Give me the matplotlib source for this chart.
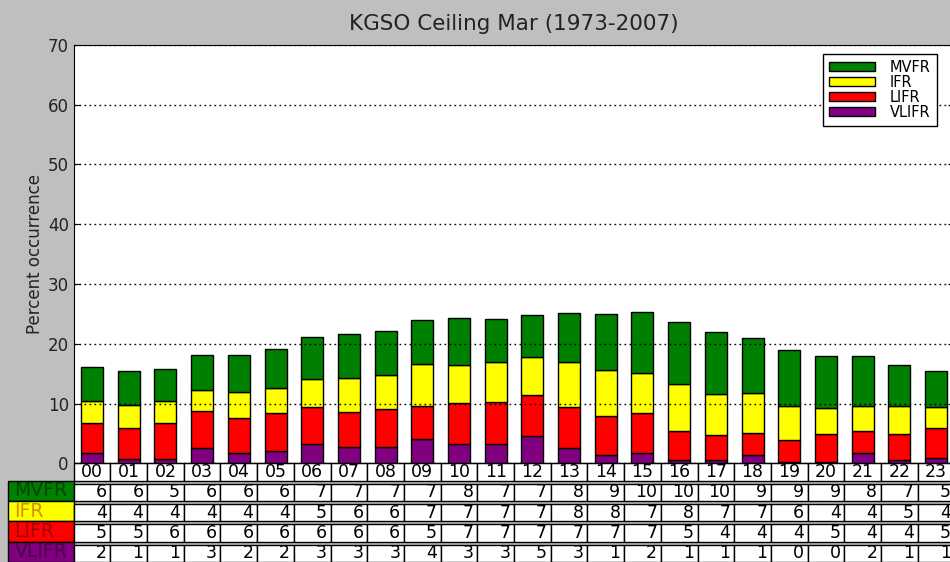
import numpy as np
import matplotlib.pyplot as plt

hours = ["00", "01", "02", "03", "04", "05", "06", "07", "08", "09", "10", "11",
         "12", "13", "14", "15", "16", "17", "18", "19", "20", "21", "22", "23"]
categories = ["VLIFR", "LIFR", "IFR", "MVFR"]

# stacked segment heights (percent)
vlifr = [1.7, 0.7, 0.8, 2.6, 1.7, 2.1, 3.25, 2.7, 2.7, 4.1, 3.25, 3.25,
         4.6, 2.5, 1.4, 1.8, 0.6, 0.55, 1.4, 0.3, 0.3, 1.7, 0.6, 0.85]
lifr = [5.0, 5.2, 6.0, 6.1, 5.9, 6.4, 6.15, 5.9, 6.45, 5.45, 6.85, 7.05,
        6.75, 6.9, 6.6, 6.6, 4.85, 4.15, 3.65, 3.6, 4.6, 3.75, 4.35, 5.05]
ifr = [3.8, 3.8, 3.65, 3.6, 4.3, 4.1, 4.65, 5.6, 5.55, 7.05, 6.4, 6.7,
       6.5, 7.6, 7.6, 6.65, 7.75, 6.85, 6.75, 5.75, 4.3, 4.2, 4.6, 3.55]
mvfr = [5.6, 5.8, 5.35, 5.8, 6.2, 6.45, 7.05, 7.4, 7.45, 7.4, 7.8, 7.2,
        7.0, 8.1, 9.4, 10.25, 10.4, 10.45, 9.1, 9.25, 8.8, 8.25, 6.95, 6.0]

# rounded values printed in the table
mvfr_tab = [6, 6, 5, 6, 6, 6, 7, 7, 7, 7, 8, 7, 7, 8, 9, 10, 10, 10, 9, 9, 9, 8, 7, 5]
ifr_tab = [4, 4, 4, 4, 4, 4, 5, 6, 6, 7, 7, 7, 7, 8, 8, 7, 8, 7, 7, 6, 4, 4, 5, 4]
lifr_tab = [5, 5, 6, 6, 6, 6, 6, 6, 6, 5, 7, 7, 7, 7, 7, 7, 5, 4, 4, 4, 5, 4, 4, 5]
vlifr_tab = [2, 1, 1, 3, 2, 2, 3, 3, 3, 4, 3, 3, 5, 3, 1, 2, 1, 1, 1, 0, 0, 2, 1, 1]

colors = {"VLIFR": "#800080", "LIFR": "#ff0000", "IFR": "#ffff00", "MVFR": "#008000"}
text_colors = {"VLIFR": "#4a004a", "LIFR": "#a00000", "IFR": "#d09000", "MVFR": "#004400"}

fig = plt.figure(figsize=(9.5, 5.62), dpi=100, facecolor="#bfbfbf")
ax = fig.add_axes([0.0776, 0.1756, 0.927, 0.7444])

x = np.arange(len(hours)) + 0.5
series = {"VLIFR": vlifr, "LIFR": lifr, "IFR": ifr, "MVFR": mvfr}
bottom = np.zeros(len(hours))
handles = {}
for name in categories:
    vals = np.array(series[name])
    handles[name] = ax.bar(x, vals, 0.6, bottom=bottom, color=colors[name],
                           edgecolor="black", linewidth=1, label=name)
    bottom += vals

ax.set_xlim(0, 24)
ax.set_ylim(0, 70)
ax.set_yticks(range(0, 71, 10))
ax.set_xticks([])
ax.yaxis.grid(True, linestyle=(0, (1.2, 2.4)), color="black", linewidth=1)
ax.tick_params(axis="y", direction="in", length=4, labelsize=12, right=True,
               labelcolor="#222222")
ax.set_ylabel("Percent occurrence", fontsize=12, labelpad=3, color="#222222")
ax.set_title("KGSO Ceiling Mar (1973-2007)", fontsize=15.5, pad=11, color="#222222")

leg = ax.legend([handles[n] for n in ["MVFR", "IFR", "LIFR", "VLIFR"]],
                ["MVFR", "IFR", "LIFR", "VLIFR"], loc="upper right",
                bbox_to_anchor=(0.980, 0.9785), borderaxespad=0, fancybox=False,
                fontsize=10.5, labelspacing=0.0, handlelength=3.2, handleheight=0.6,
                handletextpad=1.0, borderpad=0.4, framealpha=1)
leg.get_frame().set_edgecolor("black")

cell_text = [[str(v) for v in mvfr_tab], [str(v) for v in ifr_tab],
             [str(v) for v in lifr_tab], [str(v) for v in vlifr_tab]]
row_names = ["MVFR", "IFR", "LIFR", "VLIFR"]

tab_h = 0.2355
tab = ax.table(cellText=cell_text, colLabels=hours, colWidths=[1 / 24] * 24,
               cellLoc="right", colLoc="center", loc="bottom",
               bbox=[0, -tab_h, 1, tab_h])
tab.auto_set_font_size(False)
tab.set_fontsize(12.5)
row_h = tab_h / 5
for i, name in enumerate(row_names):
    c = tab.add_cell(i + 1, -1, width=0.0746, height=row_h, text=name,
                     facecolor=colors[name], loc="left")
    c.get_text().set_color(text_colors[name])
    c.get_text().set_fontsize(13.5)
for cell in tab.get_celld().values():
    cell.set_linewidth(1)
    cell.set_edgecolor("black")

fig.savefig("out.png", dpi=100, facecolor=fig.get_facecolor())
